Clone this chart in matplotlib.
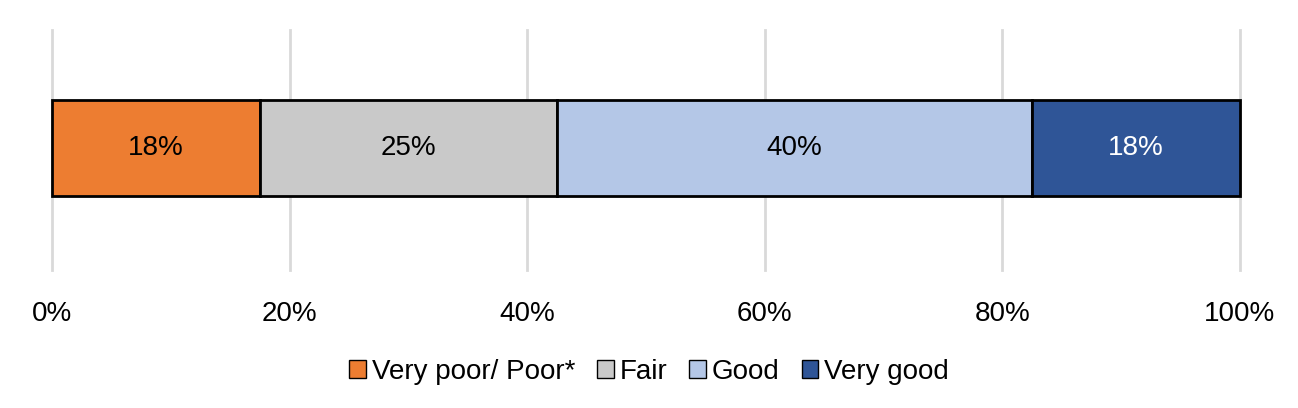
import matplotlib
matplotlib.use('Agg')
import matplotlib.pyplot as plt
from matplotlib.patches import Patch

plt.rcParams['font.family'] = ['Liberation Sans', 'DejaVu Sans']

CATEGORIES = ['Very poor/ Poor*', 'Fair', 'Good', 'Very good']
VALUES = [17.5, 25.0, 40.0, 17.5]
LABELS = ['18%', '25%', '40%', '18%']
COLORS = ['#ED7D31', '#C9C9C9', '#B4C7E7', '#2F5597']
TEXT_COLORS = ['black', 'black', 'black', 'white']
TICKS = [0, 20, 40, 60, 80, 100]

fig = plt.figure(figsize=(12.98, 4.08), dpi=100)
ax = fig.add_axes([52 / 1298, 1 - 270 / 408, 1188 / 1298, 240 / 408])

left = 0
for val, lab, col, tcol in zip(VALUES, LABELS, COLORS, TEXT_COLORS):
    ax.barh(0.508, val, left=left, height=0.4, color=col,
            edgecolor='black', linewidth=2, zorder=3, clip_on=False)
    ax.text(left + val / 2, 0.508, lab, ha='center', va='center',
            fontsize=20, color=tcol, zorder=4)
    left += val

ax.set_xlim(0, 100)
ax.set_ylim(0, 1)
ax.set_xticks(TICKS)
ax.set_xticklabels([f'{t}%' for t in TICKS], fontsize=20)
ax.tick_params(axis='x', length=0, pad=22)
ax.set_yticks([])
for t in TICKS:
    ax.axvline(t, color='#D9D9D9', linewidth=2, zorder=0, clip_on=False)
for s in ax.spines.values():
    s.set_visible(False)

handles = [Patch(facecolor=c, edgecolor='black', label=n) for c, n in zip(COLORS, CATEGORIES)]
fig.legend(handles=handles, loc='center', bbox_to_anchor=(0.5, 1 - 372 / 408),
           ncol=4, frameon=False, fontsize=20, handlelength=0.6, handleheight=0.6,
           handletextpad=0.2, columnspacing=0.8)

fig.savefig('out.png', dpi=100)
